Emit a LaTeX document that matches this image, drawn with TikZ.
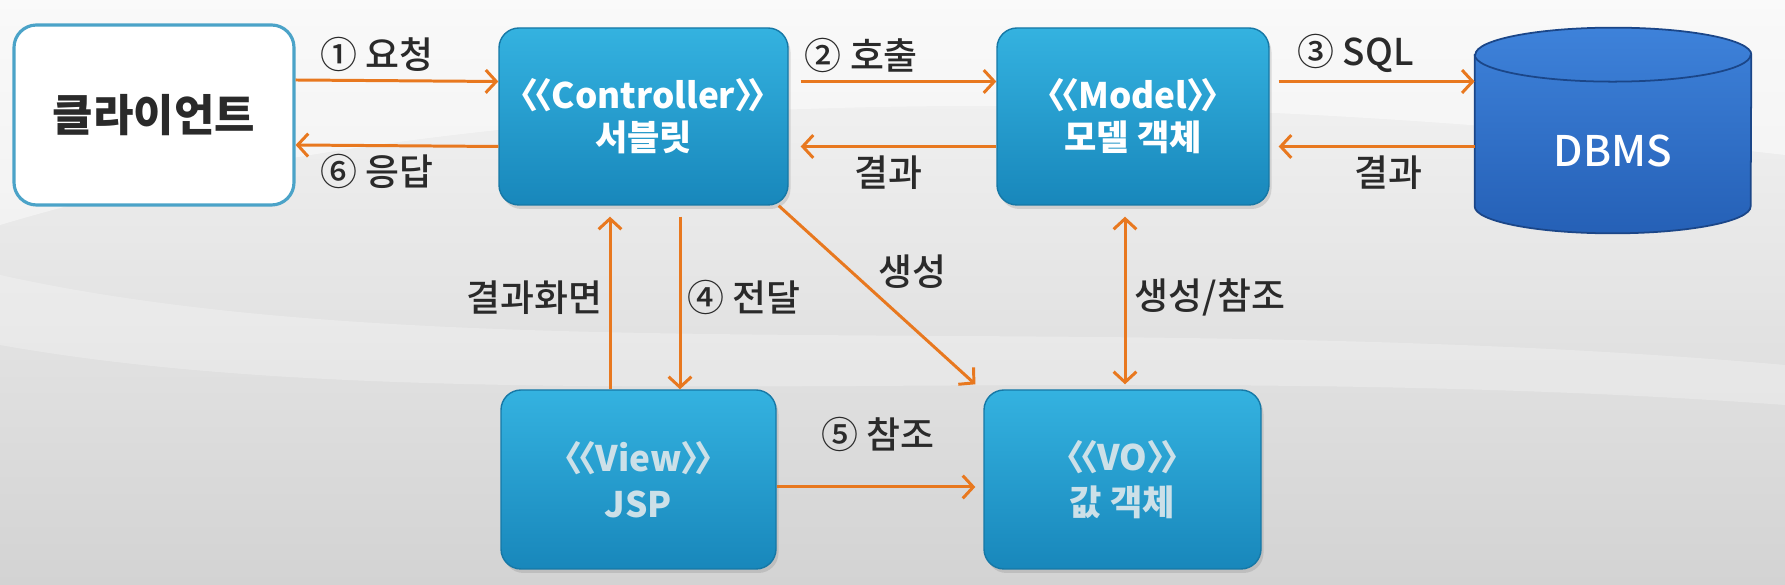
\documentclass[tikz,border=0pt]{standalone}
\usepackage{fontspec}
\setmainfont{Noto Sans CJK KR}
\newfontfamily\krmed{Noto Sans CJK KR}[UprightFont={* Medium}]
\usetikzlibrary{
  arrows.meta,
  positioning,
  shadows,
  backgrounds
}
\definecolor{mvcorange}{HTML}{E8781F}
\definecolor{mvcboxtop}{HTML}{34B2E0}
\definecolor{mvcboxbot}{HTML}{1887BB}
\definecolor{mvcline}{HTML}{1678A6}
\definecolor{mvcclient}{HTML}{4BA3C8}
\definecolor{mvcdbtop}{HTML}{3E82DA}
\definecolor{mvcdbbot}{HTML}{2560B6}
\definecolor{mvcdbline}{HTML}{1B4688}
\definecolor{mvctext}{HTML}{2A2A2A}
\definecolor{mvcpale}{HTML}{CCE0E8}
\definecolor{mvcbgtop}{HTML}{F6F6F6}
\definecolor{mvcbgbot}{HTML}{D3D3D3}

\newcommand\stereo[1]{\kern-.5em〈\kern-.62em〈\kern-.02em#1\kern-.02em〉\kern-.62em〉\kern-.5em}

\begin{document}
\begin{tikzpicture}[
  box/.style={draw=mvcline, line width=0.8pt, rounded corners=0.4cm,
    top color=mvcboxtop, bottom color=mvcboxbot, text=white, align=center,
    font=\fontsize{20}{24}\selectfont\bfseries, inner sep=0pt,
    drop shadow={opacity=0.25, shadow xshift=0.05cm, shadow yshift=-0.08cm}},
  lowbox/.style={box, text=mvcpale, font=\fontsize{20}{26}\selectfont\bfseries},
  arr/.style={-{Straight Barb[length=6pt, width=13pt]}, line width=1.7pt, mvcorange},
  lbl/.style={font=\fontsize{21}{24}\krmed, text=mvctext}
]

  % --- Background ---
  \useasboundingbox (0,0) rectangle (35.7,11.7);
  \begin{scope}[on background layer]
    \shade[top color=mvcbgtop, bottom color=mvcbgbot] (0,0) rectangle (35.7,11.7);
    \fill[white, opacity=0.45] (0,11.7) -- (0,7.2) .. controls (8,9.6) and (20,10.4) .. (35.7,8.6) -- (35.7,11.7) -- cycle;
    \fill[white, opacity=0.25] (0,6.2) .. controls (9,4.2) and (22,5.6) .. (35.7,4.4) -- (35.7,3.6) .. controls (22,4.6) and (9,3.2) .. (0,4.8) -- cycle;
  \end{scope}

  % --- Nodes ---
  \node[draw=mvcclient, line width=1.8pt, rounded corners=0.45cm, fill=white,
    minimum width=5.6cm, minimum height=3.6cm, text=mvctext,
    font=\fontsize{25}{28}\selectfont\bfseries] (client) at (3.08,9.4) {클라이언트};
  \node[box, minimum width=5.78cm, minimum height=3.54cm] (ctrl) at (12.87,9.37)
    {\stereo{Controller}\\서블릿};
  \node[box, minimum width=5.44cm, minimum height=3.54cm] (model) at (22.66,9.37)
    {\stereo{Model}\\모델 객체};
  \node[lowbox, minimum width=5.5cm, minimum height=3.58cm] (view) at (12.77,2.11)
    {\stereo{View}\\JSP};
  \node[lowbox, minimum width=5.54cm, minimum height=3.58cm] (vo) at (22.45,2.11)
    {\stereo{VO}\\값 객체};

  % --- DBMS cylinder ---
  \node[minimum width=5.52cm, minimum height=4.1cm, inner sep=0pt,
    label={[text=white, font=\fontsize{24}{28}\krmed, yshift=-0.4cm]center:DBMS}]
    (dbms) at (32.26,9.09) {};
  \begin{scope}[on background layer]
    \draw[mvcdbline, line width=1pt, top color=mvcdbtop, bottom color=mvcdbbot]
      ([yshift=-0.54cm]dbms.north west) -- ([yshift=0.54cm]dbms.south west)
      arc[start angle=180, end angle=360, x radius=2.76cm, y radius=0.54cm]
      -- ([yshift=-0.54cm]dbms.north east)
      arc[start angle=0, end angle=180, x radius=2.76cm, y radius=0.54cm] -- cycle;
    \draw[mvcdbline, line width=1pt] ([yshift=-0.54cm]dbms.north west)
      arc[start angle=180, end angle=360, x radius=2.76cm, y radius=0.54cm];
  \end{scope}

  % Client <-> Controller
  \draw[arr] ([yshift=0.7cm]client.east) -- node[above=1pt, lbl, pos=.4] {① 요청} ([yshift=0.7cm]ctrl.west);
  \draw[arr] ([yshift=-0.6cm]ctrl.west) -- node[below=1pt, lbl, pos=.6] {⑥ 응답} ([yshift=-0.6cm]client.east);

  % Controller <-> Model
  \draw[arr, shorten <=0.24cm] ([yshift=0.7cm]ctrl.east) -- node[above=1pt, lbl, pos=.35] {② 호출} ([yshift=0.7cm]model.west);
  \draw[arr, shorten >=0.24cm] ([yshift=-0.6cm]model.west) -- node[below=1pt, lbl, pos=.52] {결과} ([yshift=-0.6cm]ctrl.east);

  % Model <-> DBMS
  \draw[arr, shorten <=0.18cm] ([yshift=0.7cm]model.east) -- node[above=1pt, lbl, pos=.42] {③ SQL} ([yshift=0.7cm]model.east -| dbms.west);
  \draw[arr, shorten >=0.18cm] ([yshift=-0.6cm]model.west -| dbms.west) -- node[below=1pt, lbl, pos=.42] {결과} ([yshift=-0.6cm]model.east);

  % Controller <-> View
  \draw[arr, shorten >=0.22cm] ([xshift=-0.57cm]view.north) -- node[left=0pt, lbl] {결과화면} ([xshift=-0.57cm]view.north |- ctrl.south);
  \draw[arr, shorten <=0.22cm] ([xshift=0.83cm]view.north |- ctrl.south) -- node[right=0pt, lbl] {④ 전달} ([xshift=0.83cm]view.north);

  % Controller -> VO
  \draw[arr] ([xshift=-0.2cm]ctrl.south east) -- node[pos=.37, right=0.4cm, lbl] {생성} ([xshift=-0.16cm, yshift=0.1cm]vo.north west);

  % Model <-> VO
  \draw[arr, {Straight Barb[length=6pt, width=13pt]}-{Straight Barb[length=6pt, width=13pt]},
    shorten <=0.22cm, shorten >=0.1cm] ([xshift=0.05cm]vo.north |- model.south) -- node[right=0.05cm, lbl] {생성/참조} ([xshift=0.05cm]vo.north);

  % View -> VO
  \draw[arr, shorten >=0.16cm] ([yshift=-0.15cm]view.east) -- node[above=0.55cm, lbl, pos=.49] {⑤ 참조} ([yshift=-0.15cm]vo.west);

\end{tikzpicture}
\end{document}
